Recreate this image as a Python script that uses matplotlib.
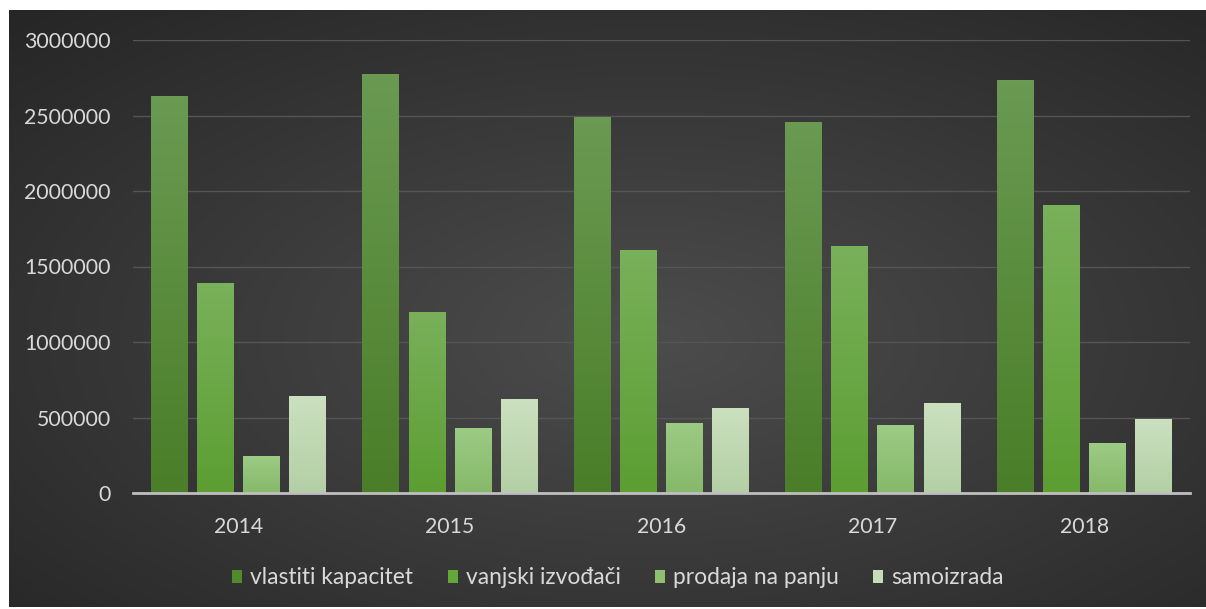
import numpy as np
import matplotlib.pyplot as plt
from matplotlib.colors import LinearSegmentedColormap

years = ["2014", "2015", "2016", "2017", "2018"]
series_names = ["vlastiti kapacitet", "vanjski izvođači", "prodaja na panju", "samoizrada"]
vlastiti = [2630000, 2775000, 2490000, 2457000, 2735000]
vanjski = [1390000, 1200000, 1610000, 1636000, 1907000]
prodaja = [245000, 430000, 464000, 450000, 331000]
samoizrada = [642000, 622000, 563000, 596000, 490000]
yticks = [0, 500000, 1000000, 1500000, 2000000, 2500000, 3000000]

# top / bottom colour of each series gradient
grad = [("#6a9a52", "#4a7e28"),
        ("#79b05a", "#5c9e32"),
        ("#9ccb84", "#86b96a"),
        ("#cbe0bf", "#b4cfa5")]
legend_cols = ["#4f8a2c", "#63a838", "#8fc06f", "#c6dcb8"]

plt.rcParams['font.family'] = ['Lato', 'DejaVu Sans']
txt = "#d9d9d9"

fig = plt.figure(figsize=(12.06, 6.09), dpi=100)
fig.patch.set_facecolor("white")

# dark radial background for the chart area
bg = fig.add_axes([9/1206, 2/609, 1197/1206, 597/609])
bg.set_axis_off()
yy, xx = np.mgrid[0:300, 0:600]
cx, cy = 320, 165
r = np.sqrt(((xx - cx) / 600) ** 2 + ((yy - cy) / 300) ** 2)
r = np.clip(r / 0.75, 0, 1)
lum = 0.30 - 0.15 * r
bg.imshow(np.dstack([lum, lum, lum]), aspect="auto", extent=[0, 1, 0, 1])
bg.set_xlim(0, 1)
bg.set_ylim(0, 1)

ax = fig.add_axes([133/1206, 116/609, 1057/1206, 453/609])
ax.patch.set_alpha(0)

x = np.arange(len(years))
w = 0.175
step = 0.218
data = [vlastiti, vanjski, prodaja, samoizrada]
for i, vals in enumerate(data):
    off = (i - 1.5) * step
    bars = ax.bar(x + off, vals, width=w, color=legend_cols[i], label=series_names[i], zorder=3)
    cmap = LinearSegmentedColormap.from_list("g%d" % i, [grad[i][1], grad[i][0]])
    for b in bars:
        bx, by = b.get_x(), b.get_y()
        bw, bh = b.get_width(), b.get_height()
        g = np.linspace(0, 1, 64).reshape(-1, 1)
        im = ax.imshow(g, cmap=cmap, aspect="auto", origin="lower",
                       extent=[bx, bx + bw, by, by + bh], zorder=4)
        im.set_clip_path(b)

ax.set_xlim(-0.5, len(years) - 0.5)
ax.set_ylim(0, 3000000)
ax.set_xticks(x)
ax.set_xticklabels(years)
ax.set_yticks(yticks)
ax.set_yticklabels([str(v) for v in yticks])
ax.tick_params(axis="both", length=0, colors=txt, labelsize=15.3)
ax.tick_params(axis="x", pad=17)
ax.tick_params(axis="y", pad=16)
ax.grid(axis="y", color="#555555", linewidth=1, zorder=1)
ax.set_axisbelow(True)
for s in ["top", "right", "left"]:
    ax.spines[s].set_visible(False)
ax.spines["bottom"].set_color("#bfbfbf")
ax.spines["bottom"].set_linewidth(2)
ax.spines["bottom"].set_zorder(5)

handles, labels = ax.get_legend_handles_labels()
leg = fig.legend(handles, labels, loc="center", bbox_to_anchor=(618/1206, 1 - 578/609),
                 ncol=4, frameon=False, fontsize=16.4, handlelength=0.45, handleheight=0.45,
                 handletextpad=0.35, columnspacing=1.5)
for t in leg.get_texts():
    t.set_color(txt)

fig.savefig("out.png", dpi=100, facecolor=fig.get_facecolor())
